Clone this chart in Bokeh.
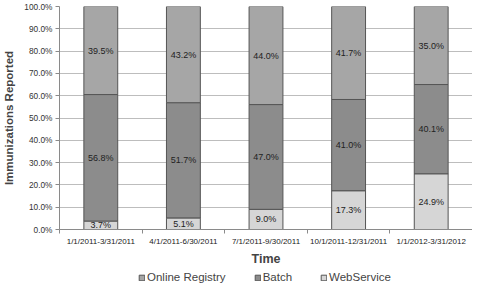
from bokeh.plotting import figure
from bokeh.layouts import column
from bokeh.models import (ColumnDataSource, FixedTicker, PrintfTickFormatter, Legend,
                          LegendItem, Range1d, LabelSet)
from bokeh.core.properties import value
from bokeh.embed import file_html
from bokeh.resources import INLINE

periods = ["1/1/2011-3/31/2011", "4/1/2011-6/30/2011", "7/1/2011-9/30/2011",
           "10/1/2011-12/31/2011", "1/1/2012-3/31/2012"]
webservice = [3.7, 5.1, 9.0, 17.3, 24.9]
batch = [56.8, 51.7, 47.0, 41.0, 40.1]
online = [39.5, 43.2, 44.0, 41.7, 35.0]
y_ticks = [0, 10, 20, 30, 40, 50, 60, 70, 80, 90, 100]
series_names = ["Online Registry", "Batch", "WebService"]
series_colors = ["#a6a6a6", "#8c8c8c", "#d6d6d6"]

n = len(periods)
xs = [i + 0.5 for i in range(n)]
w_top = webservice
b_top = [w + b for w, b in zip(webservice, batch)]
o_top = [bt + o for bt, o in zip(b_top, online)]

src = ColumnDataSource(dict(
    x=xs,
    w0=[0] * n, w1=w_top, wm=[v / 2 for v in w_top], wl=[f"{v:.1f}%" for v in webservice],
    b0=w_top, b1=b_top, bm=[(a + b) / 2 for a, b in zip(w_top, b_top)], bl=[f"{v:.1f}%" for v in batch],
    o0=b_top, o1=o_top, om=[(a + b) / 2 for a, b in zip(b_top, o_top)], ol=[f"{v:.1f}%" for v in online],
))
segments = [("o0", "o1"), ("b0", "b1"), ("w0", "w1")]

FONT = "Liberation Sans"
EDGE = "#555555"
p = figure(frame_width=413, frame_height=223, output_backend="svg", toolbar_location=None,
           x_range=Range1d(0, n), y_range=Range1d(0, 100),
           min_border_left=49, min_border_right=0, min_border_top=6, min_border_bottom=0)
p.outline_line_color = None
p.background_fill_color = "white"

bw = 0.41
for (b0, b1), col in zip(segments, series_colors):
    p.vbar(x="x", bottom=b0, top=b1, width=bw, source=src,
           fill_color=col, line_color=EDGE, line_width=1)

for ycol, tcol in (("wm", "wl"), ("bm", "bl"), ("om", "ol")):
    p.add_layout(LabelSet(x="x", y=ycol, text=tcol, source=src, text_align="center",
                          text_baseline="middle", text_font=value(FONT), text_font_size="9px",
                          text_color="#222222"))

# y axis
p.yaxis.ticker = FixedTicker(ticks=y_ticks)
p.yaxis.formatter = PrintfTickFormatter(format="%.1f%%")
p.yaxis.axis_label = "Immunizations Reported"
p.yaxis.axis_label_text_font = FONT
p.yaxis.axis_label_text_font_style = "bold"
p.yaxis.axis_label_text_font_size = "11.5px"
p.yaxis.axis_label_standoff = 6
p.yaxis.major_label_text_font = FONT
p.yaxis.major_label_text_font_size = "8.3px"
p.yaxis.major_label_text_color = "#333333"
p.yaxis.major_label_standoff = 3
p.yaxis.axis_line_color = "#8a8a8a"
p.yaxis.major_tick_line_color = "#8a8a8a"
p.yaxis.major_tick_out = 4
p.yaxis.major_tick_in = 0
p.yaxis.minor_tick_line_color = None

# x axis
p.xaxis.ticker = FixedTicker(ticks=xs, minor_ticks=list(range(n + 1)))
p.xaxis.major_label_overrides = {x: lab for x, lab in zip(xs, periods)}
p.xaxis.major_label_text_font = FONT
p.xaxis.major_label_text_font_size = "8px"
p.xaxis.major_label_text_color = "#222222"
p.xaxis.major_label_standoff = 3
p.xaxis.major_tick_line_color = None
p.xaxis.major_tick_out = 0
p.xaxis.major_tick_in = 0
p.xaxis.minor_tick_line_color = "#8a8a8a"
p.xaxis.minor_tick_out = 4
p.xaxis.minor_tick_in = 0
p.xaxis.axis_line_color = "#8a8a8a"
p.xaxis.axis_label = "Time"
p.xaxis.axis_label_text_font = FONT
p.xaxis.axis_label_text_font_style = "bold"
p.xaxis.axis_label_text_font_size = "12.5px"
p.xaxis.axis_label_standoff = 3

p.xgrid.grid_line_color = None
p.ygrid.grid_line_color = "#bdbdbd"
p.ygrid.grid_line_width = 1

# legend strip (its renderers use the same data, scrolled out of view)
lg = figure(frame_width=462, frame_height=18, output_backend="svg", toolbar_location=None,
            x_range=Range1d(0, n), y_range=Range1d(1000, 1001),
            x_axis_location=None, y_axis_location=None,
            min_border_left=0, min_border_right=0, min_border_top=0, min_border_bottom=0)
lg.outline_line_color = None
lg.grid.grid_line_color = None
items = []
for name, (b0, b1), col in zip(series_names, segments, series_colors):
    r = lg.vbar(x="x", bottom=b0, top=b1, width=bw, source=src,
                fill_color=col, line_color=EDGE, line_width=1)
    items.append(LegendItem(label=name, renderers=[r]))
legend = Legend(items=items, orientation="horizontal", location=(138, 3),
                label_text_font=FONT, label_text_font_size="11.5px",
                label_standoff=2, glyph_width=7, glyph_height=7, spacing=28,
                padding=0, margin=0, border_line_color=None, label_height=12,
                background_fill_alpha=0)
lg.add_layout(legend)

layout = column(p, lg, spacing=0)
open("out.html", "w").write(file_html(layout, INLINE))
